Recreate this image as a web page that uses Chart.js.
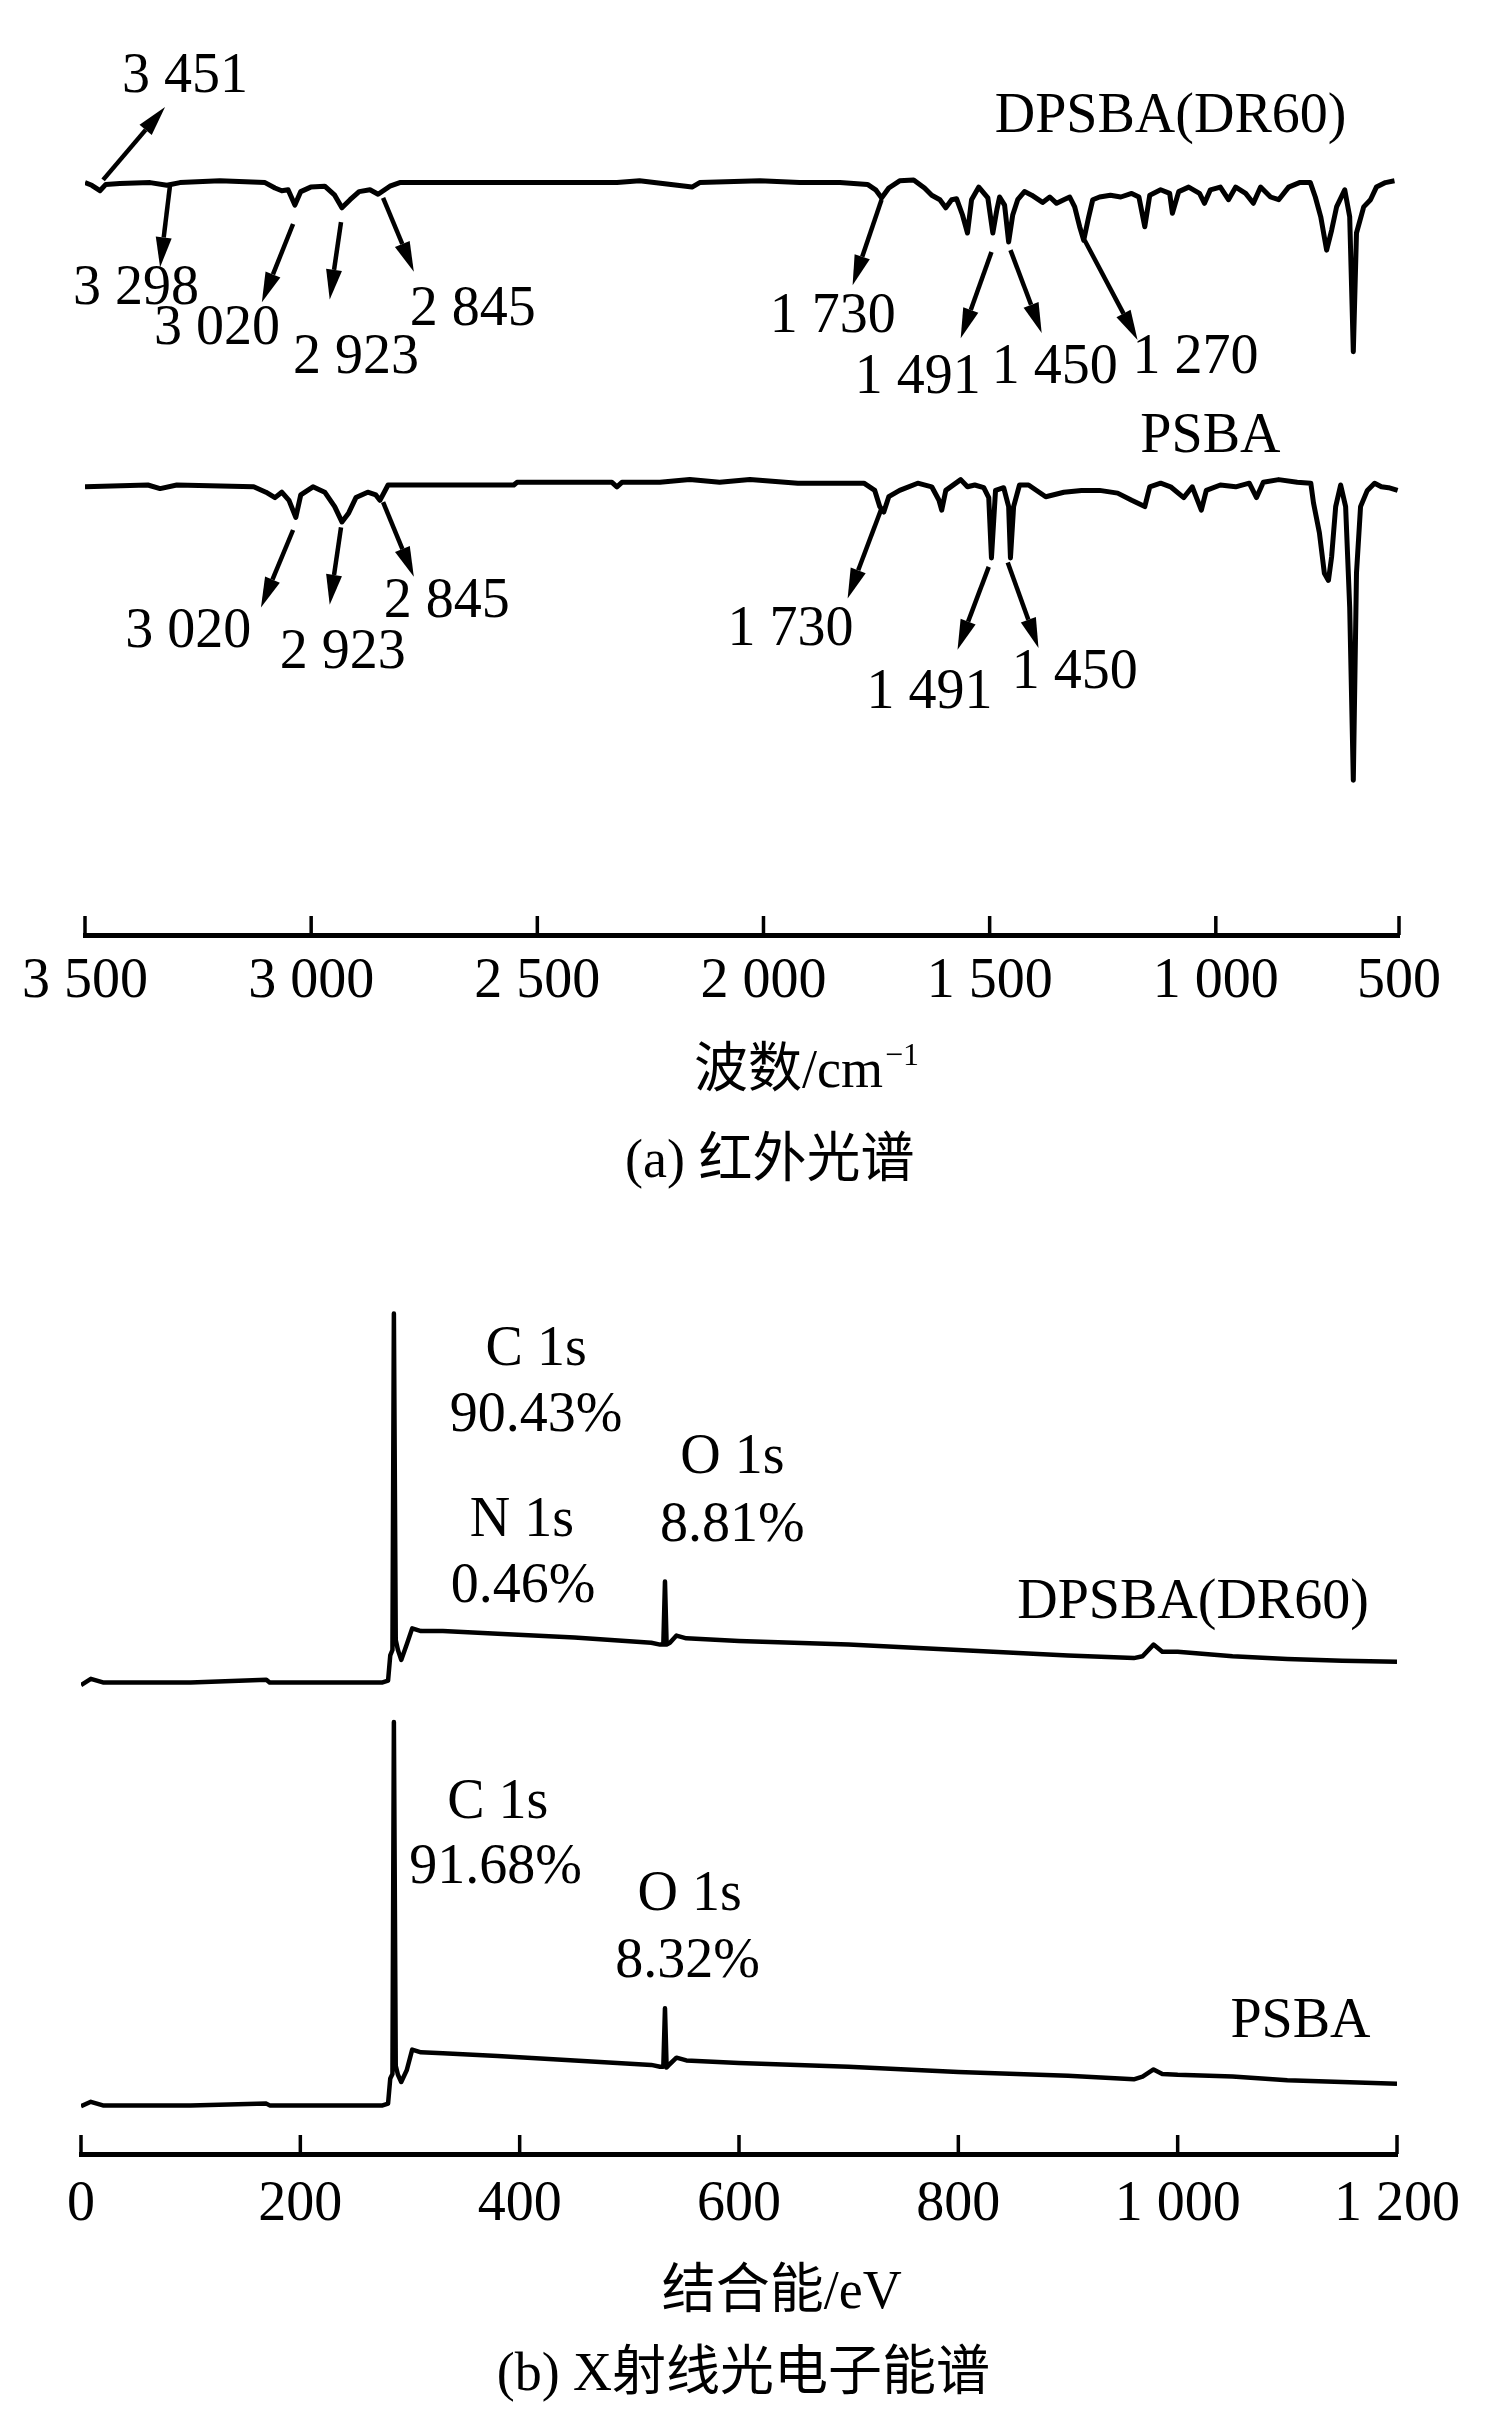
<!DOCTYPE html>
<html>
<head>
<meta charset="utf-8">
<script src="https://cdn.jsdelivr.net/npm/chart.js@4.4.0/dist/chart.umd.min.js"></script>
<style>
  body { margin: 0; background: #fff; }
  canvas { position: absolute; left: 0; }
</style>
</head>
<body>
<canvas id="irChart" width="1502" height="1210" style="top:0"></canvas>
<canvas id="xpsChart" width="1502" height="1188" style="top:1240px"></canvas>
<script>
// ---- (a) IR spectra: wavenumber (cm-1) and offset transmittance ----
const irDpsbaWavenumber = [3500, 3485, 3467, 3454, 3423, 3356, 3319, 3290, 3202, 3102, 3080, 3065, 3051, 3036, 3023, 3001, 2970, 2948, 2932, 2914, 2894, 2870, 2852, 2826, 2804, 2324, 2274, 2158, 2141, 2008, 1920, 1831, 1770, 1752, 1739, 1723, 1699, 1668, 1644, 1628, 1610, 1597, 1584, 1573, 1560, 1549, 1540, 1524, 1504, 1493, 1484, 1478, 1467, 1458, 1449, 1438, 1423, 1407, 1383, 1367, 1352, 1336, 1323, 1312, 1301, 1292, 1281, 1272, 1257, 1233, 1210, 1186, 1170, 1157, 1146, 1122, 1102, 1096, 1082, 1060, 1036, 1025, 1012, 990, 972, 956, 934, 917, 901, 879, 861, 839, 815, 791, 780, 768, 755, 744, 733, 715, 704, 696, 689, 673, 658, 645, 625, 605];
const irDpsbaValue = [83.6, 83.3, 82.7, 83.4, 83.5, 83.6, 83.3, 83.6, 83.8, 83.6, 83.0, 82.7, 82.8, 81.1, 82.6, 83.1, 83.2, 82.2, 80.8, 81.7, 82.6, 82.8, 82.3, 83.2, 83.6, 83.6, 83.8, 83.1, 83.6, 83.8, 83.6, 83.6, 83.4, 82.8, 81.9, 83.0, 83.8, 83.9, 83.0, 82.2, 81.7, 80.8, 81.7, 81.8, 80.0, 78.0, 81.7, 83.1, 81.9, 78.0, 80.6, 82.0, 81.1, 77.0, 80.0, 81.7, 82.6, 82.2, 81.4, 82.0, 81.3, 81.7, 82.0, 80.9, 78.7, 77.2, 79.8, 81.7, 82.0, 82.2, 82.0, 82.4, 82.0, 78.7, 82.2, 82.8, 82.4, 80.2, 82.6, 83.1, 82.4, 81.3, 82.8, 83.1, 81.7, 83.1, 82.4, 81.3, 83.1, 82.0, 81.7, 83.1, 83.6, 83.6, 82.0, 79.8, 76.1, 78.3, 80.9, 82.8, 79.8, 64.8, 78.0, 80.9, 81.7, 83.1, 83.6, 83.8];
const irPsbaWavenumber = [3500, 3361, 3334, 3297, 3127, 3100, 3080, 3065, 3049, 3034, 3023, 2996, 2970, 2948, 2932, 2917, 2901, 2875, 2857, 2848, 2830, 2552, 2545, 2335, 2324, 2313, 2229, 2163, 2097, 2030, 1924, 1778, 1754, 1743, 1734, 1723, 1699, 1659, 1628, 1612, 1606, 1597, 1564, 1549, 1533, 1513, 1502, 1496, 1487, 1469, 1458, 1454, 1447, 1434, 1414, 1376, 1336, 1297, 1257, 1217, 1186, 1157, 1146, 1122, 1100, 1071, 1052, 1032, 1021, 990, 956, 926, 910, 895, 861, 820, 790, 784, 771, 760, 751, 744, 735, 724, 713, 704, 696, 689, 680, 665, 649, 634, 618, 598];
const irPsbaValue = [49.8, 50.0, 49.6, 50.0, 49.8, 49.2, 48.6, 49.2, 48.3, 46.4, 48.9, 49.8, 49.2, 47.6, 45.9, 46.9, 48.6, 49.2, 48.9, 48.3, 50.0, 50.0, 50.3, 50.3, 49.8, 50.3, 50.3, 50.6, 50.3, 50.6, 50.2, 50.2, 49.4, 47.6, 47.0, 48.7, 49.4, 50.2, 49.8, 48.3, 47.2, 49.4, 50.6, 49.8, 50.0, 49.7, 48.6, 41.9, 49.4, 49.7, 47.6, 41.9, 47.6, 50.0, 50.0, 48.7, 49.2, 49.4, 49.4, 49.1, 48.3, 47.6, 49.8, 50.2, 49.8, 48.6, 49.8, 47.2, 49.4, 50.0, 49.8, 50.2, 48.6, 50.3, 50.6, 50.3, 50.2, 48.0, 44.7, 40.2, 39.4, 42.0, 47.6, 50.0, 47.6, 36.4, 17.2, 40.2, 47.6, 49.4, 50.2, 49.8, 49.7, 49.4];
const irTickValues = [3500, 3000, 2500, 2000, 1500, 1000, 595];
const irTickLabels = ['3 500', '3 000', '2 500', '2 000', '1 500', '1 000', '500'];

// ---- (b) XPS survey: binding energy (eV) and offset intensity ----
const xpsEnergy = [0, 9, 20, 100, 169, 172, 275, 280, 282, 284, 285.3, 287, 289, 292, 297, 302, 310, 330, 380, 450, 520, 528, 531, 532.5, 534, 537, 543, 552, 600, 700, 800, 900, 960, 968, 978, 986, 1000, 1050, 1100, 1150, 1200];
const xpsDpsbaValue = [52.1, 52.8, 52.4, 52.4, 52.7, 52.4, 52.4, 52.6, 55.4, 56.0, 93.4, 57.1, 56.0, 54.9, 56.6, 58.4, 58.1, 58.1, 57.8, 57.4, 56.8, 56.6, 56.6, 63.6, 56.6, 56.8, 57.6, 57.3, 57.0, 56.6, 56.0, 55.4, 55.1, 55.3, 56.6, 55.8, 55.8, 55.3, 55.0, 54.8, 54.7];
const xpsPsbaValue = [5.3, 5.8, 5.4, 5.4, 5.6, 5.4, 5.4, 5.6, 8.4, 8.9, 48.0, 9.8, 8.8, 8.0, 9.3, 11.6, 11.3, 11.2, 10.9, 10.4, 9.9, 9.7, 9.7, 16.2, 9.6, 10.0, 10.7, 10.4, 10.1, 9.7, 9.1, 8.7, 8.3, 8.6, 9.4, 8.9, 8.8, 8.6, 8.2, 8.0, 7.8];
const xpsTickValues = [0, 200, 400, 600, 800, 1000, 1200];
const xpsTickLabels = ['0', '200', '400', '600', '800', '1 000', '1 200'];

// annotations, in data units: [text, x, y]
const irLabels = [
  ['3 451', 3279, 95.3], ['3 298', 3387, 71.8], ['3 020', 3208, 67.3], ['2 923', 2901, 64.1],
  ['2 845', 2643, 69.4], ['DPSBA(DR60)', 1100, 90.9], ['1 730', 1847, 68.6], ['1 491', 1659, 61.9],
  ['1 450', 1356, 63.0], ['1 270', 1045, 64.1], ['PSBA', 1012, 55.3],
  ['3 020', 3272, 33.6], ['2 923', 2930, 31.3], ['2 845', 2700, 37.0],
  ['1 730', 1940, 33.9], ['1 491', 1633, 26.9], ['1 450', 1312, 29.1],
];
// arrows: [fromX, fromY, toX, toY], head at "to"
const irArrows = [
  [3460, 83.9, 3323, 92.0], [3312, 83.3, 3334, 74.2], [3040, 79.0, 3109, 70.3],
  [2934, 79.2, 2959, 70.6], [2841, 81.9, 2773, 73.7], [1739, 81.7, 1803, 72.2],
  [1496, 75.9, 1564, 66.3], [1454, 76.1, 1385, 66.9], [1290, 77.2, 1173, 66.1],
  [3040, 45.0, 3111, 36.4], [2934, 45.3, 2959, 36.7], [2841, 48.1, 2773, 39.8],
  [1739, 47.4, 1814, 37.4], [1502, 40.9, 1571, 31.7], [1460, 41.4, 1392, 31.9],
];
const xpsLabels = [
  ['C 1s', 415, 89.3], ['90.43%', 415, 82.0], ['O 1s', 594, 77.3], ['8.81%', 594, 69.8],
  ['N 1s', 402, 70.3], ['0.46%', 403, 63.0], ['DPSBA(DR60)', 1014, 61.2],
  ['C 1s', 380, 39.0], ['91.68%', 378, 31.7], ['O 1s', 555, 28.8], ['8.32%', 553, 21.3],
  ['PSBA', 1112, 14.6],
];

const FONT = "'Liberation Serif', 'Noto Sans CJK SC', serif";

function drawArrow(ctx, x1, y1, x2, y2) {
  const a = Math.atan2(y2 - y1, x2 - x1);
  const len = 30, half = 8;
  const bx = x2 - len * Math.cos(a), by = y2 - len * Math.sin(a);
  ctx.lineWidth = 4.5;
  ctx.beginPath();
  ctx.moveTo(x1, y1);
  ctx.lineTo(bx, by);
  ctx.stroke();
  ctx.beginPath();
  ctx.moveTo(x2, y2);
  ctx.lineTo(bx + half * Math.sin(a), by - half * Math.cos(a));
  ctx.lineTo(bx - half * Math.sin(a), by + half * Math.cos(a));
  ctx.closePath();
  ctx.fill();
}

// inward ticks, peak labels, arrows and the two bottom titles
function notesPlugin(labels, arrows, titles) {
  return {
    id: 'notes',
    afterDraw(chart) {
      const { ctx, chartArea } = chart;
      const x = chart.scales.x, y = chart.scales.y;
      ctx.save();
      ctx.strokeStyle = '#000';
      ctx.fillStyle = '#000';
      ctx.lineWidth = 3.5;
      x.ticks.forEach(t => {
        const px = x.getPixelForValue(t.value);
        ctx.beginPath();
        ctx.moveTo(px, chartArea.bottom);
        ctx.lineTo(px, chartArea.bottom - 19);
        ctx.stroke();
      });
      arrows.forEach(a => drawArrow(ctx, x.getPixelForValue(a[0]), y.getPixelForValue(a[1]),
        x.getPixelForValue(a[2]), y.getPixelForValue(a[3])));
      ctx.textAlign = 'center';
      ctx.textBaseline = 'middle';
      ctx.font = '56px ' + FONT;
      labels.forEach(l => ctx.fillText(l[0], x.getPixelForValue(l[1]), y.getPixelForValue(l[2])));
      titles.forEach(t => {
        const cx = x.getPixelForValue(t.x), cy = y.getPixelForValue(t.y);
        ctx.font = '54px ' + FONT;
        if (!t.sup) {
          ctx.fillText(t.text, cx, cy);
          return;
        }
        const w1 = ctx.measureText(t.text).width;
        ctx.font = '32px ' + FONT;
        const w2 = ctx.measureText(t.sup).width;
        const left = cx - (w1 + w2) / 2;
        ctx.textAlign = 'left';
        ctx.fillText(t.sup, left + w1 + 2, cy - 16);
        ctx.font = '54px ' + FONT;
        ctx.fillText(t.text, left, cy);
        ctx.textAlign = 'center';
      });
      ctx.restore();
    }
  };
}

function series(xs, ys, width) {
  return {
    data: xs.map((v, i) => ({ x: v, y: ys[i] })),
    borderColor: '#000',
    borderWidth: width,
    borderJoinStyle: 'round',
    pointRadius: 0,
    tension: 0,
    fill: false,
  };
}

function makeChart(id, datasets, xOpts, padding, labelPad, plugin) {
  return new Chart(document.getElementById(id), {
    type: 'line',
    data: { datasets },
    options: {
      responsive: false,
      animation: false,
      devicePixelRatio: 1,
      layout: { padding },
      plugins: { legend: { display: false }, tooltip: { enabled: false } },
      scales: {
        x: {
          type: 'linear',
          min: xOpts.min,
          max: xOpts.max,
          reverse: xOpts.reverse,
          grid: { display: false },
          border: { display: true, color: '#000', width: 5 },
          afterBuildTicks: s => { s.ticks = xOpts.ticks.map(v => ({ value: v })); },
          afterFit: s => { s.height = 110; },
          ticks: {
            autoSkip: false,
            maxRotation: 0,
            padding: labelPad,
            color: '#000',
            font: { family: FONT, size: 56 },
            callback: (v, i) => xOpts.labels[i],
          },
        },
        y: { display: false, min: 0, max: 100 },
      },
    },
    plugins: [plugin],
  });
}

makeChart('irChart',
  [series(irDpsbaWavenumber, irDpsbaValue, 5), series(irPsbaWavenumber, irPsbaValue, 5)],
  { min: 595, max: 3500, reverse: true, ticks: irTickValues, labels: irTickLabels },
  { left: 85, right: 103, top: 35, bottom: 165 }, 6,
  notesPlugin(irLabels, irArrows, [
    { text: '波数/cm', sup: '−1', x: 1907, y: -15.3 },
    { text: '(a) 红外光谱', x: 1986, y: -25.3 },
  ]));

makeChart('xpsChart',
  [series(xpsEnergy, xpsDpsbaValue, 4.5), series(xpsEnergy, xpsPsbaValue, 4.5)],
  { min: 0, max: 1200, reverse: false, ticks: xpsTickValues, labels: xpsTickLabels },
  { left: 81, right: 105, top: 14, bottom: 164 }, 10,
  notesPlugin(xpsLabels, [], [
    { text: '结合能/eV', x: 639, y: -15.5 },
    { text: '(b) X射线光电子能谱', x: 604, y: -24.6 },
  ]));
</script>
</body>
</html>
